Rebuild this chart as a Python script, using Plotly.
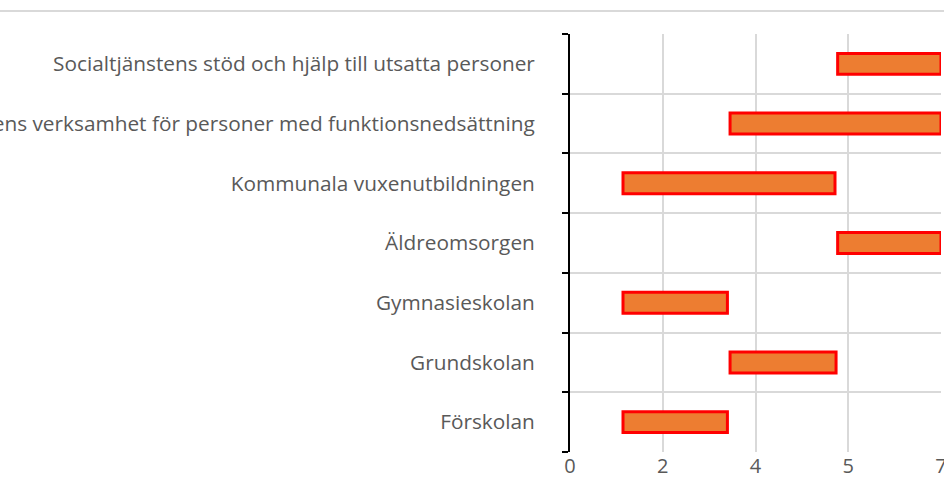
import plotly.graph_objects as go

categories = [
    "Förskolan",
    "Grundskolan",
    "Gymnasieskolan",
    "Äldreomsorgen",
    "Kommunala vuxenutbildningen",
    "Kommunens verksamhet för personer med funktionsnedsättning",
    "Socialtjänstens stöd och hjälp till utsatta personer",
]
start_values = [1.0, 3.02, 1.0, 5.05, 1.0, 3.02, 5.05]
end_values = [2.97, 5.02, 2.97, 7.0, 5.0, 7.0, 7.0]
x_tick_values = [0, 1.75, 3.5, 5.25, 7]
x_tick_labels = ["0", "2", "4", "5", "7"]

lengths = [e - s for s, e in zip(start_values, end_values)]

FONT = "Open Sans"
FS = 20.8
fig = go.Figure(
    go.Bar(
        y=categories,
        x=lengths,
        base=start_values,
        orientation="h",
        width=0.35,
        marker=dict(color="#ED7D31", line=dict(color="#FF0000", width=3)),
        hoverinfo="skip",
    )
)

W, H = 944, 478
ml, mr, mt, mb = 570, 3, 34, 26
pw = W - ml - mr
ph = H - mt - mb

fig.update_layout(
    width=W,
    height=H,
    margin=dict(l=ml, r=mr, t=mt, b=mb, autoexpand=False),
    paper_bgcolor="white",
    plot_bgcolor="white",
    showlegend=False,
    font=dict(family=FONT, size=FS, color="#595959"),
    xaxis=dict(
        range=[0, 7],
        tickvals=x_tick_values,
        ticktext=x_tick_labels,
        showgrid=True,
        gridcolor="#d9d9d9",
        gridwidth=2,
        zeroline=False,
        showline=False,
        ticks="",
        automargin=False,
        ticklabeloverflow="allow",
        tickfont=dict(family=FONT, size=FS - 0.8, color="#595959"),
    ),
    yaxis=dict(
        type="category",
        categoryorder="array",
        categoryarray=categories,
        tickson="boundaries",
        showgrid=True,
        gridcolor="#d9d9d9",
        gridwidth=2,
        showline=True,
        linecolor="black",
        linewidth=2,
        ticks="outside",
        ticklen=6,
        tickwidth=2,
        tickcolor="black",
        ticklabelstandoff=29,
        automargin=False,
        ticklabeloverflow="allow",
        tickfont=dict(family=FONT, size=FS, color="#595959"),
    ),
    shapes=[
        dict(
            type="line",
            xref="paper",
            yref="paper",
            x0=-ml / pw,
            x1=1 + mr / pw,
            y0=1 + 23 / ph,
            y1=1 + 23 / ph,
            line=dict(color="#d9d9d9", width=2),
        )
    ],
)

fig.write_html(
    "out.html",
    config={"displayModeBar": False},
    post_script="document.body.style.margin='0';document.body.style.overflow='hidden';",
)
